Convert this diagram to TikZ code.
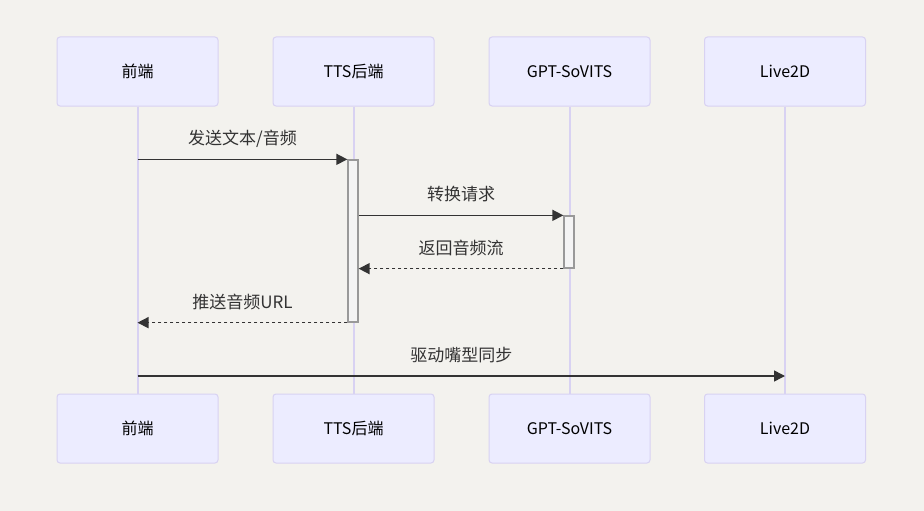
\documentclass[tikz,border=0pt]{standalone}
\usepackage{fontspec}
\setmainfont{Noto Sans CJK SC}
\usetikzlibrary{arrows.meta}
\definecolor{bgcol}{HTML}{F3F2EE}
\definecolor{actorfill}{HTML}{ECECFF}
\definecolor{actorline}{HTML}{D8D2F2}
\definecolor{inkcol}{HTML}{333333}
\definecolor{actfill}{HTML}{F4F4F4}
\definecolor{actline}{HTML}{999999}
\tikzset{
  actor/.style={draw=actorline, fill=actorfill, rounded corners=3pt, line width=1pt,
    minimum width=161pt, minimum height=69pt, text=black, font=\fontsize{16}{19}\selectfont},
  lifeline/.style={draw=actorline, line width=2pt},
  activation/.style={draw=actline, fill=actfill, line width=1.3pt, minimum width=10pt,
    inner sep=0pt},
  msg/.style={draw=inkcol, line width=1.5pt, -{Triangle[length=11pt,width=11pt]}},
  reply/.style={msg, dash pattern=on 3pt off 3pt},
  msglabel/.style={midway, yshift=21pt, text=inkcol, font=\fontsize{17}{20}\selectfont},
}
\begin{document}
\begin{tikzpicture}[x=1pt, y=-1pt]
  \fill[bgcol] (0,0) rectangle (924,511);
  \useasboundingbox (0,0) rectangle (924,511);

  % Actors, top and bottom
  \foreach \name/\x/\txt in {fe/137.5/前端, tts/353.5/TTS后端, gpt/569.5/GPT-SoVITS, l2d/785/Live2D} {
    \node[actor] (\name) at (\x,71.5) {\txt};
    \node[actor] (\name b) at (\x,428.5) {\txt};
    \draw[lifeline] (\name) -- (\name b);
  }

  % Activation bars
  \node[activation, minimum height=162pt] (ttsact) at (353,241) {};
  \node[activation, minimum height=52pt] (gptact) at (569,242) {};
  \coordinate (sync) at (0,376);

  % Messages
  \draw[msg] (fe |- ttsact.north west) -- (ttsact.north west)
    node[msglabel] {发送文本/音频};
  \draw[msg] (ttsact.east |- gptact.north west) -- (gptact.north west)
    node[msglabel] {转换请求};
  \draw[reply] (gptact.south west) -- (ttsact.east |- gptact.south west)
    node[msglabel] {返回音频流};
  \draw[reply] (ttsact.south west) -- (fe |- ttsact.south west)
    node[msglabel] {推送音频URL};
  \draw[msg] (fe |- sync) -- (l2d |- sync)
    node[msglabel] {驱动嘴型同步};
\end{tikzpicture}
\end{document}
